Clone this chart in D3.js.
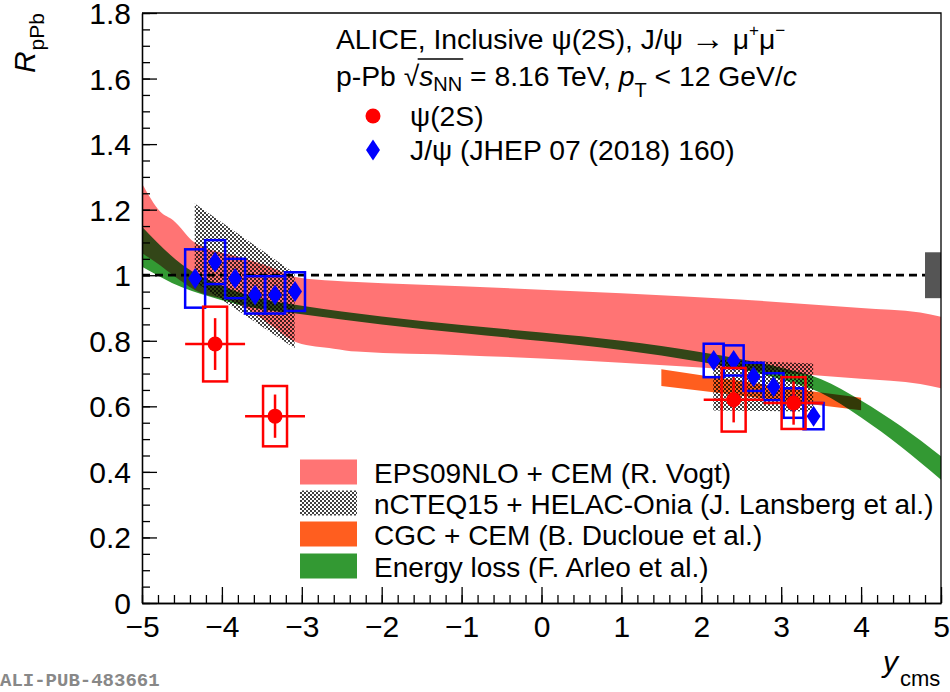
<!DOCTYPE html>
<html>
<head>
<meta charset="utf-8">
<title>psi(2S) RpPb</title>
<script src="https://d3js.org/d3.v7.min.js"></script>
<style>
  body { margin: 0; background: #fff; }
  text { font-family: "Liberation Sans", Arial, Helvetica, sans-serif; white-space: pre; }
</style>
</head>
<body>
<script>
// --- data ---
// psi(2S), inclusive
var psiY     = [-4.085, -3.335, 2.405, 3.155];
var psiR     = [0.79, 0.57, 0.62, 0.61];
var psiStat  = [0.079, 0.066, 0.069, 0.066];
var psiSyst  = [0.114, 0.092, 0.097, 0.079];
var psiBinHW = [0.375, 0.375, 0.375, 0.375];

// J/psi (JHEP 07 (2018) 160)
var jpsiY    = [-4.335, -4.085, -3.835, -3.585, -3.335, -3.085, 2.155, 2.405, 2.655, 2.905, 3.155, 3.405];
var jpsiR    = [0.99, 1.04, 0.99, 0.94, 0.94, 0.95, 0.74, 0.74, 0.69, 0.66, 0.61, 0.57];
var jpsiStat = [0.02, 0.02, 0.02, 0.02, 0.02, 0.02, 0.015, 0.015, 0.015, 0.015, 0.015, 0.015];
var jpsiSyst = [0.089, 0.067, 0.060, 0.057, 0.057, 0.059, 0.051, 0.046, 0.043, 0.041, 0.045, 0.040];
var jpsiBinHW = 0.125;

// models
var epsX  = [-5, -4.77, -4.61, -4.34, -3.77, -3.4, -3.06, -2.6, -2.31, -1, 0, 1, 2.48, 4, 4.74, 5];
var epsHi = [1.28, 1.194, 1.168, 1.10, 1.055, 1.026, 0.994, 0.983, 0.979, 0.966, 0.956, 0.945, 0.926, 0.90, 0.886, 0.873];
var epsLo = [1.067, 1.03, 1.0, 0.955, 0.91, 0.85, 0.795, 0.776, 0.767, 0.756, 0.746, 0.733, 0.711, 0.684, 0.668, 0.655];

var ncteqBackX  = [-4.34, -3.09];
var ncteqBackHi = [1.219, 1.006];
var ncteqBackLo = [0.98, 0.777];
var ncteqFwdX   = [2.15, 3.40];
var ncteqFwdHi  = [0.743, 0.731];
var ncteqFwdLo  = [0.587, 0.584];

var cgcX  = [1.5, 2.75, 4];
var cgcHi = [0.713, 0.668, 0.626];
var cgcLo = [0.662, 0.625, 0.588];

var elX  = [-5, -4.5, -4, -3.5, -3, -2, -1, 0, 1, 2, 2.5, 3, 3.5, 4, 4.5, 5];
var elHi = [1.148, 1.033, 0.968, 0.928, 0.907, 0.874, 0.848, 0.825, 0.800, 0.765, 0.744, 0.718, 0.683, 0.618, 0.539, 0.448];
var elLo = [1.026, 0.963, 0.924, 0.896, 0.881, 0.850, 0.824, 0.799, 0.772, 0.735, 0.712, 0.682, 0.641, 0.566, 0.477, 0.376];

var normUnc = 0.07;

var legendLabels = ["EPS09NLO + CEM (R. Vogt)", "nCTEQ15 + HELAC-Onia (J. Lansberg et al.)",
                    "CGC + CEM (B. Ducloue et al.)", "Energy loss (F. Arleo et al.)"];

// --- layout ---
var w = 950, h = 692;
var plotL = 142, plotR = 941, plotT = 13, plotB = 603;

var xScale = d3.scaleLinear().domain([-5, 5]).range([plotL, plotR]);
var yScale = d3.scaleLinear().domain([0, 1.8]).range([plotB, plotT]);

var svg = d3.select("body").append("svg").attr("width", w).attr("height", h);

var defs = svg.append("defs");
var pat = defs.append("pattern").attr("id", "checker").attr("patternUnits", "userSpaceOnUse")
  .attr("width", 4).attr("height", 4);
pat.append("rect").attr("x", 0).attr("y", 0).attr("width", 2).attr("height", 2)
  .attr("fill", "#000").attr("shape-rendering", "crispEdges");
pat.append("rect").attr("x", 2).attr("y", 2).attr("width", 2).attr("height", 2)
  .attr("fill", "#000").attr("shape-rendering", "crispEdges");
defs.append("clipPath").attr("id", "plotclip").append("rect")
  .attr("x", plotL).attr("y", plotT).attr("width", plotR - plotL).attr("height", plotB - plotT);

var red = "#ff0000", blue = "#0000ff";
var pink = "#ff7474", green = "#339933", orange = "#ff5e1f";

function band(xs, lo, hi) {
  return d3.area()
    .x(function(d) { return xScale(d[0]); })
    .y0(function(d) { return yScale(d[1]); })
    .y1(function(d) { return yScale(d[2]); })
    .curve(d3.curveMonotoneX)(d3.zip(xs, lo, hi));
}

var plot = svg.append("g").attr("clip-path", "url(#plotclip)");
plot.append("path").attr("d", band(epsX, epsLo, epsHi)).attr("fill", pink);
plot.append("path").attr("d", band(elX, elLo, elHi)).attr("fill", green).style("mix-blend-mode", "multiply");
plot.append("path").attr("d", band(cgcX, cgcLo, cgcHi)).attr("fill", orange).style("mix-blend-mode", "multiply");
plot.append("path").attr("d", band(ncteqBackX, ncteqBackLo, ncteqBackHi)).attr("fill", "url(#checker)").attr("fill-opacity", 0.75);
plot.append("path").attr("d", band(ncteqFwdX, ncteqFwdLo, ncteqFwdHi)).attr("fill", "url(#checker)").attr("fill-opacity", 0.75);

// unity line + normalisation box
plot.append("line")
  .attr("x1", xScale(-5)).attr("x2", xScale(5))
  .attr("y1", yScale(1)).attr("y2", yScale(1))
  .attr("stroke", "#000").attr("stroke-width", 2.8).attr("stroke-dasharray", "8,5");
plot.append("rect")
  .attr("x", xScale(4.8)).attr("width", xScale(5) - xScale(4.8))
  .attr("y", yScale(1 + normUnc)).attr("height", yScale(1 - normUnc) - yScale(1 + normUnc))
  .attr("fill", "#555");

// J/psi
var jpsi = d3.zip(jpsiY, jpsiR, jpsiStat, jpsiSyst);
svg.selectAll("rect.jbox").data(jpsi).enter().append("rect").attr("class", "jbox")
  .attr("x", function(d) { return xScale(d[0] - jpsiBinHW); })
  .attr("width", function(d) { return xScale(d[0] + jpsiBinHW) - xScale(d[0] - jpsiBinHW); })
  .attr("y", function(d) { return yScale(d[1] + d[3]); })
  .attr("height", function(d) { return yScale(d[1] - d[3]) - yScale(d[1] + d[3]); })
  .attr("fill", "none").attr("stroke", blue).attr("stroke-width", 2.5);
svg.selectAll("line.jstat").data(jpsi).enter().append("line").attr("class", "jstat")
  .attr("x1", function(d) { return xScale(d[0]); }).attr("x2", function(d) { return xScale(d[0]); })
  .attr("y1", function(d) { return yScale(d[1] - d[2]); }).attr("y2", function(d) { return yScale(d[1] + d[2]); })
  .attr("stroke", blue).attr("stroke-width", 2.5);
var diamond = "M0,-10.5L7,0L0,10.5L-7,0Z";
svg.selectAll("path.jpt").data(jpsi).enter().append("path").attr("class", "jpt")
  .attr("d", diamond)
  .attr("transform", function(d) { return "translate(" + xScale(d[0]) + "," + yScale(d[1]) + ")"; })
  .attr("fill", blue);

// psi(2S)
var psi = d3.zip(psiY, psiR, psiStat, psiSyst, psiBinHW);
var sysHW = 0.15;
svg.selectAll("rect.pbox").data(psi).enter().append("rect").attr("class", "pbox")
  .attr("x", function(d) { return xScale(d[0] - sysHW); })
  .attr("width", function(d) { return xScale(d[0] + sysHW) - xScale(d[0] - sysHW); })
  .attr("y", function(d) { return yScale(d[1] + d[3]); })
  .attr("height", function(d) { return yScale(d[1] - d[3]) - yScale(d[1] + d[3]); })
  .attr("fill", "none").attr("stroke", red).attr("stroke-width", 2.5);
svg.selectAll("line.pstat").data(psi).enter().append("line").attr("class", "pstat")
  .attr("x1", function(d) { return xScale(d[0]); }).attr("x2", function(d) { return xScale(d[0]); })
  .attr("y1", function(d) { return yScale(d[1] - d[2]); }).attr("y2", function(d) { return yScale(d[1] + d[2]); })
  .attr("stroke", red).attr("stroke-width", 2.5);
svg.selectAll("line.pbin").data(psi).enter().append("line").attr("class", "pbin")
  .attr("x1", function(d) { return xScale(d[0] - d[4]); }).attr("x2", function(d) { return xScale(d[0] + d[4]); })
  .attr("y1", function(d) { return yScale(d[1]); }).attr("y2", function(d) { return yScale(d[1]); })
  .attr("stroke", red).attr("stroke-width", 2.5);
svg.selectAll("circle.ppt").data(psi).enter().append("circle").attr("class", "ppt")
  .attr("cx", function(d) { return xScale(d[0]); })
  .attr("cy", function(d) { return yScale(d[1]); })
  .attr("r", 7.5).attr("fill", red);

// --- axes ---
function styleAxis(g) {
  g.selectAll("line").attr("stroke", "#000").attr("stroke-width", 1.3);
  g.selectAll("path.domain").attr("stroke", "#000").attr("stroke-width", 1.3);
  g.selectAll("text").style("font-size", "30px").attr("fill", "#000")
    .style("font-family", "'Liberation Sans', Arial, sans-serif");
}
var fmt = function(d) { return d3.format("~g")(d).replace("-", "\u2212"); };

var xMinor = svg.append("g").attr("transform", "translate(0," + plotB + ")")
  .call(d3.axisBottom(xScale).ticks(50).tickSize(-8).tickSizeOuter(0).tickFormat(""));
styleAxis(xMinor);
var xMajor = svg.append("g").attr("transform", "translate(0," + plotB + ")")
  .call(d3.axisBottom(xScale).ticks(10).tickSize(-16).tickSizeOuter(0).tickPadding(13).tickFormat(fmt));
styleAxis(xMajor);

var yMinor = svg.append("g").attr("transform", "translate(" + plotL + ",0)")
  .call(d3.axisLeft(yScale).ticks(36).tickSize(-8).tickSizeOuter(0).tickFormat(""));
styleAxis(yMinor);
var yMajor = svg.append("g").attr("transform", "translate(" + plotL + ",0)")
  .call(d3.axisLeft(yScale).ticks(9).tickSize(-15).tickSizeOuter(0).tickPadding(11).tickFormat(fmt));
styleAxis(yMajor);
yMajor.selectAll("text").attr("dy", "0.35em");

// frame top/right
svg.append("path")
  .attr("d", "M" + plotL + "," + plotT + "H" + plotR + "V" + plotB)
  .attr("fill", "none").attr("stroke", "#000").attr("stroke-width", 1.3);

// axis titles
var xt = svg.append("text").attr("x", 883).attr("y", 672);
xt.append("tspan").text("y").style("font-style", "italic").style("font-size", "30px");
xt.append("tspan").text("cms").style("font-size", "22px").attr("dy", 14).attr("dx", 2);

var yt = svg.append("g").attr("transform", "translate(35," + plotT + ") rotate(-90)")
  .append("text").attr("x", 0).attr("y", 0).attr("text-anchor", "end");
yt.append("tspan").text("R").style("font-style", "italic").style("font-size", "30px");
yt.append("tspan").text("pPb").style("font-size", "21px").attr("dy", 9).attr("dx", 1);

// --- rich text helper (pieces measured one after another) ---
function rich(x0, yb, parts, size) {
  var cx = x0;
  parts.forEach(function(p) {
    var t = svg.append("text").attr("x", cx).attr("y", yb + (p.dy || 0))
      .style("font-size", (p.size || size) + "px")
      .style("font-style", p.it ? "italic" : "normal")
      .text(p.t);
    p.x0 = cx;
    cx += t.node().getComputedTextLength() + (p.gap || 0);
    p.x1 = cx;
  });
  return parts;
}

rich(336, 49, [
  { t: "ALICE, Inclusive \u03c8(2S), J/\u03c8 " },
  { t: "\u2192", size: 34, dy: 1 },
  { t: " \u03bc" },
  { t: "+", size: 17, dy: -13 },
  { t: "\u03bc" },
  { t: "\u2212", size: 17, dy: -13 }
], 28.3);

var l2 = rich(336, 86, [
  { t: "p-Pb " },
  { t: "\u221a" },
  { t: "s", it: true },
  { t: "NN", size: 20, dy: 5 },
  { t: " = 8.16 TeV, " },
  { t: "p", it: true },
  { t: "T", size: 20, dy: 11 },
  { t: " < 12 GeV/" },
  { t: "c", it: true }
], 28.3);
svg.append("line")
  .attr("x1", l2[1].x1 - 1.5).attr("x2", l2[3].x1 + 1)
  .attr("y1", 86 - 27).attr("y2", 86 - 27)
  .attr("stroke", "#000").attr("stroke-width", 1.6);

svg.append("circle").attr("cx", 373).attr("cy", 116).attr("r", 7.5).attr("fill", red);
rich(410, 126, [{ t: "\u03c8(2S)" }], 28.3);
svg.append("path").attr("d", diamond).attr("transform", "translate(373,150)").attr("fill", blue);
rich(410, 160, [{ t: "J/\u03c8 (JHEP 07 (2018) 160)" }], 28.3);

// bottom legend
var legFills = [pink, "url(#checker)", orange, green];
var legY = [472, 503, 534, 566];
legendLabels.forEach(function(lab, i) {
  var r = svg.append("rect").attr("x", 300).attr("y", legY[i] - 12.5).attr("width", 57).attr("height", 25)
    .attr("fill", legFills[i]);
  if (i === 1) r.attr("fill-opacity", 0.75);
  svg.append("text").attr("x", 374).attr("y", legY[i] + 10.5).style("font-size", "28px").text(lab);
});

svg.append("text").attr("x", 0).attr("y", 686).text("ALI-PUB-483661")
  .style("font-family", "'Liberation Mono', 'DejaVu Sans Mono', monospace")
  .style("font-weight", "bold").style("font-size", "19px").attr("fill", "#888");
</script>
</body>
</html>
